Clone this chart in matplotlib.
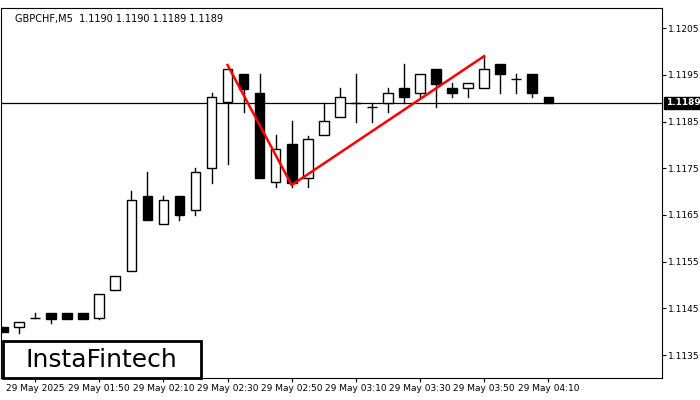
import matplotlib.pyplot as plt
from matplotlib.patches import Rectangle

opens  = [1.1141, 1.1141, 1.11429, 1.1144, 1.1144, 1.1144, 1.1143, 1.1149, 1.1153, 1.1169,
          1.11631, 1.1169, 1.1166, 1.1175, 1.11892, 1.11952, 1.11911, 1.11721, 1.11802, 1.11729,
          1.11821, 1.1186, 1.1189, 1.11881, 1.1189, 1.11922, 1.11911, 1.11962, 1.11922, 1.11922,
          1.11922, 1.11973, 1.11941, 1.11952, 1.11902]
closes = [1.1140, 1.1142, 1.11429, 1.11427, 1.11427, 1.11427, 1.11481, 1.1152, 1.11682, 1.11639,
          1.11682, 1.1165, 1.11742, 1.11902, 1.11962, 1.1192, 1.11729, 1.11791, 1.11718, 1.11812,
          1.11851, 1.11902, 1.1189, 1.11881, 1.11911, 1.11902, 1.11952, 1.1193, 1.11911, 1.11932,
          1.11962, 1.11952, 1.11941, 1.11911, 1.1189]
highs  = [1.1141, 1.1142, 1.1144, 1.1144, 1.1144, 1.1144, 1.11481, 1.1152, 1.11701, 1.11742,
          1.1169, 1.1169, 1.1175, 1.1191, 1.11962, 1.11952, 1.11952, 1.11821, 1.11851, 1.1182,
          1.1189, 1.11922, 1.11952, 1.1189, 1.11922, 1.11973, 1.11952, 1.11962, 1.11932, 1.11932,
          1.1199, 1.11973, 1.11952, 1.11952, 1.11902]
lows   = [1.1140, 1.11397, 1.11429, 1.11418, 1.11427, 1.11427, 1.11427, 1.1149, 1.1153, 1.11639,
          1.11631, 1.1164, 1.1165, 1.11718, 1.11759, 1.1187, 1.11729, 1.1171, 1.1171, 1.1171,
          1.11821, 1.1186, 1.11849, 1.11849, 1.1187, 1.1189, 1.11902, 1.11881, 1.11902, 1.11902,
          1.11922, 1.11911, 1.11911, 1.11902, 1.1189]

pattern_x = [14, 18, 30]
pattern_y = [1.11971, 1.11714, 1.1199]
last_price = 1.1189

tick_pos = [0, 4, 8, 12, 16, 20, 24, 28, 32]
tick_labels = ["29 May 2025", "29 May 01:50", "29 May 02:10", "29 May 02:30", "29 May 02:50",
               "29 May 03:10", "29 May 03:30", "29 May 03:50", "29 May 04:10"]
ytick_vals = [1.1135, 1.1145, 1.1155, 1.1165, 1.1175, 1.1185, 1.1195, 1.1205]

fig = plt.figure(figsize=(7, 4), dpi=100)
ax = fig.add_axes([0.002, 0.055, 0.944, 0.925])
ax.set_xlim(-0.1, 41.1)
ax.set_ylim(1.11301, 1.12093)

w = 0.6
for i, (o, c, h, l) in enumerate(zip(opens, closes, highs, lows)):
    top, bot = max(o, c), min(o, c)
    ax.plot([i, i], [top, h], color="black", lw=1, zorder=2)
    ax.plot([i, i], [l, bot], color="black", lw=1, zorder=2)
    face = "white" if c > o else "black"
    hgt = max(top - bot, 0.000005)
    ax.add_patch(Rectangle((i - w / 2, bot), w, hgt, facecolor=face, edgecolor="black", lw=1, zorder=3))

ax.axhline(last_price, color="black", lw=0.9, zorder=1)
ax.plot(pattern_x, pattern_y, color="red", lw=1.8, zorder=4)

ax.yaxis.tick_right()
ax.set_yticks(ytick_vals)
ax.set_yticklabels([f"{v:.4f}" for v in ytick_vals], fontsize=6.5)
ax.set_xticks([p + 2 for p in tick_pos])
ax.set_xticklabels(tick_labels, fontsize=6.5)
ax.tick_params(length=3, pad=1.5)

ax.text(0.02, 0.985, "GBPCHF,M5  1.1190 1.1190 1.1189 1.1189", transform=ax.transAxes,
        fontsize=7, va="top", ha="left")
ax.text(1.006, last_price, "1.1189", transform=ax.get_yaxis_transform(), fontsize=6.5,
        color="white", va="center", ha="left", fontweight="bold",
        bbox=dict(boxstyle="square,pad=0.2", facecolor="black", edgecolor="black"))

fig.patches.append(Rectangle((0.004, 0.055), 0.283, 0.092, transform=fig.transFigure,
                             facecolor="white", edgecolor="black", lw=2, zorder=10))
fig.text(0.145, 0.1, "InstaFintech", fontsize=18, ha="center", va="center", zorder=11)

fig.savefig("out.png", dpi=100)
